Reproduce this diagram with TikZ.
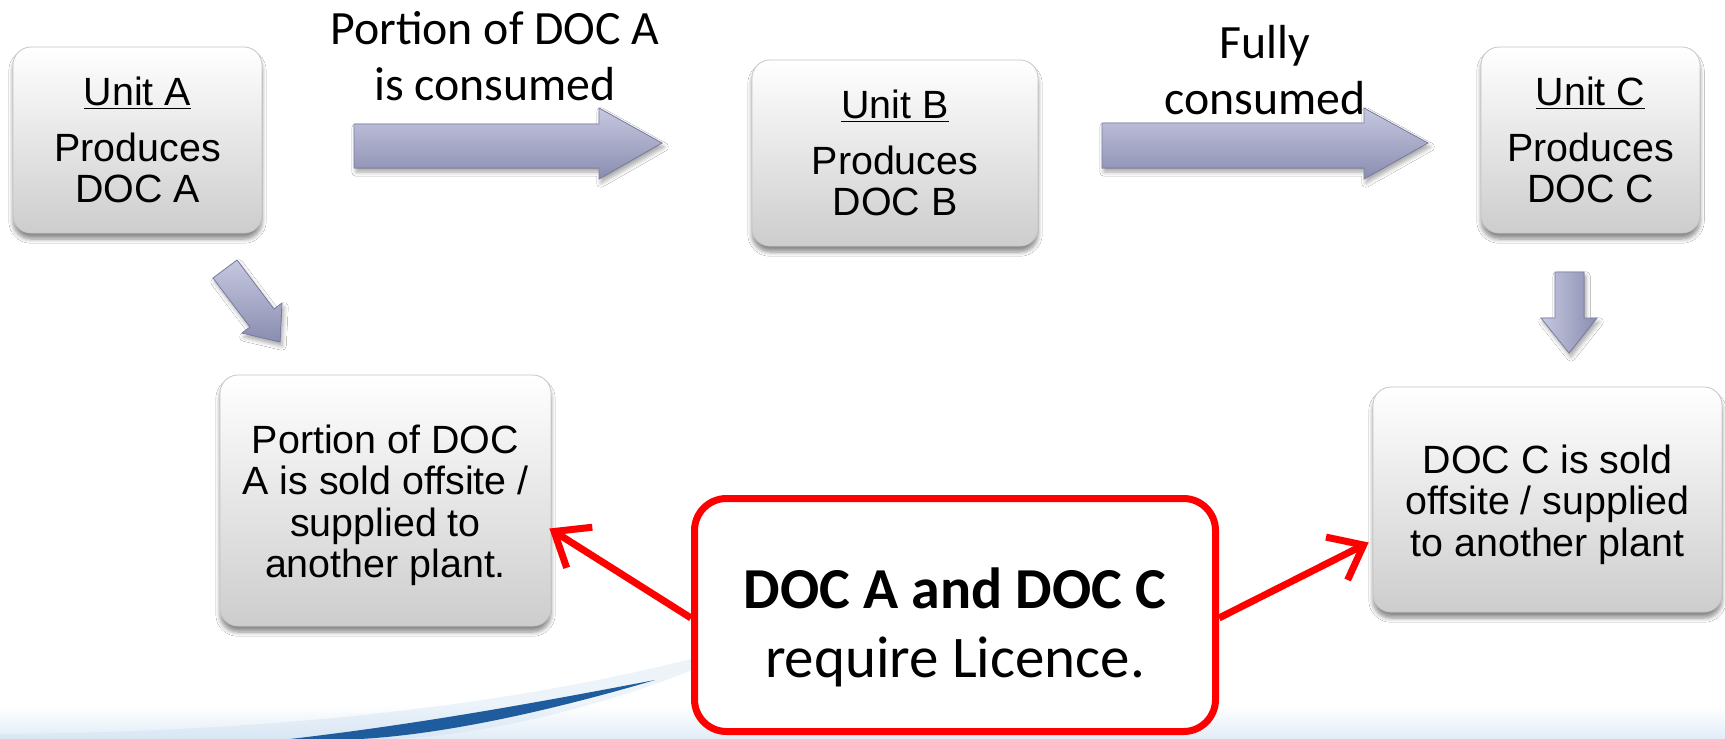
\documentclass[tikz,border=0pt]{standalone}
\usepackage{fontspec}
\setmainfont{Liberation Sans}
\newfontfamily\calibrifont{Carlito}
\usetikzlibrary{shadows.blur,arrows.meta,calc}
\definecolor{arrowtop}{HTML}{C6C8E0}
\definecolor{arrowbot}{HTML}{8A8DB0}
\definecolor{arrowedge}{HTML}{7C7FA3}
\definecolor{boxbot}{HTML}{CDCDCD}
\definecolor{swooshblue}{HTML}{1E5C9E}
\definecolor{hazeblue}{HTML}{C9DDF0}
\definecolor{licred}{HTML}{FF0000}
\begin{document}
\begin{tikzpicture}[x=0.5pt,y=-0.5pt,
  unitbox/.style={rectangle, rounded corners=9pt, top color=white, bottom color=boxbot,
    draw=gray!45, line width=0.4pt,
    blur shadow={shadow xshift=0pt, shadow yshift=-3pt, shadow blur steps=6, shadow opacity=45},
    align=center, inner sep=0pt, font=\fontsize{19.7}{20.7}\selectfont},
  boxtext/.style={align=center, inner sep=0pt, font=\fontsize{19.7}{20.7}\selectfont},
  flowlabel/.style={align=center, inner sep=0pt, font=\calibrifont\fontsize{23.9}{28}\selectfont},
  blockarrow/.style={top color=arrowtop, bottom color=arrowbot, draw=arrowedge, line width=0.4pt,
    blur shadow={shadow xshift=1pt, shadow yshift=-2pt, shadow blur steps=5, shadow opacity=35}},
  blockarrowv/.style={left color=arrowtop, right color=arrowbot, draw=arrowedge, line width=0.4pt,
    blur shadow={shadow xshift=1pt, shadow yshift=-2pt, shadow blur steps=5, shadow opacity=35}},
  licbox/.style={rectangle, rounded corners=16pt, draw=licred, line width=3.5pt, fill=white, inner sep=0pt},
  lictext/.style={align=center, inner sep=0pt, font=\calibrifont\fontsize{29.5}{34.5}\selectfont},
  licarrow/.style={draw=licred, line width=3.5pt, -{Straight Barb[length=15pt,width=24pt]}}
]
\useasboundingbox (0,0) rectangle (1725,739);
\fill[white] (0,0) rectangle (1725,739);
% background decoration
\shade[top color=white, bottom color=hazeblue!55] (0,705) rectangle (1725,739);
\fill[hazeblue, opacity=0.35] (0,739) -- (0,734) .. controls (300,732) and (560,700) .. (760,640)
  .. controls (640,700) and (480,739) .. (380,739) -- cycle;
\fill[swooshblue] (290,739) .. controls (420,724) and (540,702) .. (655,680)
  .. controls (560,708) and (450,734) .. (360,739) -- cycle;

% boxes
\node[unitbox, minimum width=124.5pt, minimum height=93pt] (unitA) at (137.5,140)
  {\underline{Unit A}\\[7pt]Produces\\DOC A};
\node[unitbox, minimum width=143pt, minimum height=93pt] (unitB) at (895,153)
  {\underline{Unit B}\\[7pt]Produces\\DOC B};
\node[unitbox, minimum width=109.5pt, minimum height=93pt] (unitC) at (1590.5,140)
  {\underline{Unit C}\\[7pt]Produces\\DOC C};
\node[unitbox, minimum width=165.5pt, minimum height=125.5pt] (portion) at (385.5,500.5) {};
\node[boxtext] (portionText) at ($(portion.center)+(0,5)$)
  {Portion of DOC\\A is sold offsite /\\supplied to\\another plant.};
\node[unitbox, minimum width=174.5pt, minimum height=112.5pt] (docC) at (1547.5,499.5) {};
\node[boxtext] (docCText) at ($(docC.center)+(0,5)$)
  {DOC C is sold\\offsite / supplied\\to another plant};

% flow labels
\node[flowlabel] (lblA) at (495,56) {Portion of DOC A\\is consumed};
\node[flowlabel] (lblB) at (1265,70) {Fully\\consumed};

% block arrows
\filldraw[blockarrow] (354,124) -- (599,124) -- (599,108) -- (662,143) -- (599,179) -- (599,168) -- (354,168) -- cycle;
\filldraw[blockarrow] (1102,123) -- (1364,123) -- (1364,108) -- (1428,143) -- (1364,179) -- (1364,168) -- (1102,168) -- cycle;
\filldraw[blockarrowv] (1555,272) -- (1584,272) -- (1584,318) -- (1597,318) -- (1569,353) -- (1541,318) -- (1555,318) -- cycle;
\filldraw[blockarrow] (237,260) -- (274,309) -- (282,303) -- (280,342) -- (242,333) -- (250,327) -- (213,278) -- cycle;

% licence box and arrows
\node[licbox, minimum width=260.5pt, minimum height=116.5pt] (lic) at (955,615) {};
\node[lictext] (licText) at ($(lic.center)+(0,12)$)
  {\fontsize{29}{34.5}\selectfont\textbf{DOC A and DOC C}\\require Licence.};
\draw[licarrow] ($(lic.west)+(0,3)$) -- ($(portion.east)+(-2,28)$);
\draw[licarrow] ($(lic.east)+(0,3)$) -- ($(docC.west)+(-4,43)$);
\end{tikzpicture}
\end{document}
